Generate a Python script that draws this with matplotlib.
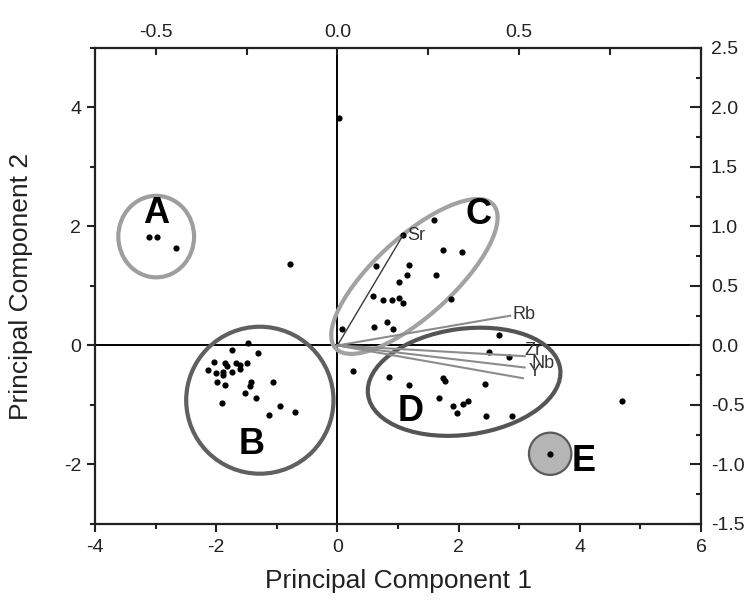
import numpy as np
import matplotlib
matplotlib.use("Agg")
import matplotlib.pyplot as plt
from matplotlib.patches import Ellipse
from matplotlib.ticker import MultipleLocator, FormatStrFormatter

plt.rcParams['font.family'] = ['Liberation Sans', 'DejaVu Sans']
plt.rcParams['axes.unicode_minus'] = False

# PCA scores (PC1, PC2), grouped by cluster
a_pc1 = [-3.11, -2.98, -2.67]
a_pc2 = [1.83, 1.83, 1.64]

b_pc1 = [-1.48, -1.74, -1.31, -2.03, -1.86, -1.83, -1.68, -1.61, -1.49, -2.13, -2.01, -1.88, -1.88,
         -1.74, -1.61, -1.99, -1.85, -1.42, -1.45, -1.06, -1.52, -1.34, -1.91, -0.94, -0.70, -1.13]
b_pc2 = [0.05, -0.07, -0.12, -0.28, -0.29, -0.34, -0.29, -0.33, -0.29, -0.42, -0.46, -0.44, -0.50,
         -0.45, -0.39, -0.62, -0.67, -0.61, -0.68, -0.61, -0.80, -0.89, -0.97, -1.01, -1.11, -1.16]

c_pc1 = [1.60, 1.09, 1.74, 2.05, 0.63, 1.18, 1.15, 1.62, 1.02, 0.59, 0.76, 0.90, 1.01, 1.08, 1.88,
         0.08, 0.60, 0.82, 0.92]
c_pc2 = [2.11, 1.85, 1.61, 1.57, 1.33, 1.36, 1.19, 1.18, 1.06, 0.83, 0.76, 0.77, 0.80, 0.72, 0.78,
         0.27, 0.31, 0.39, 0.28]

d_pc1 = [0.25, 0.85, 1.18, 1.74, 1.78, 2.43, 1.68, 1.91, 1.97, 2.07, 2.16, 2.45, 2.88, 2.50, 2.83, 2.66]
d_pc2 = [-0.43, -0.53, -0.66, -0.54, -0.60, -0.64, -0.88, -1.01, -1.14, -0.98, -0.94, -1.18, -1.19,
         -0.11, -0.19, 0.18]

other_pc1 = [-0.78, 0.03, 4.70, 3.51]
other_pc2 = [1.37, 3.83, -0.94, -1.82]

# loadings (top / right axes)
elements = ['Sr', 'Rb', 'Zr', 'Nb', 'Y']
load1 = [0.18, 0.475, 0.515, 0.515, 0.51]
load2 = [0.925, 0.25, -0.09, -0.185, -0.275]

# group outlines: label, centre, width, height, angle
groups = ['A', 'B', 'C', 'D', 'E']
grp_center = [(-2.99, 1.83), (-1.28, -0.92), (1.27, 1.16), (2.09, -0.61), (3.51, -1.82)]
grp_width = [1.25, 2.43, 3.55, 3.2, 0.7]
grp_height = [1.37, 2.47, 1.31, 1.78, 0.71]
grp_angle = [0, 0, 43, 8, 0]
grp_label_pos = [(-2.99, 2.22), (-1.42, -1.66), (2.32, 2.2), (1.2, -1.11), (4.06, -1.95)]

edge_cols = ['#9e9e9e', '#606060', '#a2a2a2', '#555555', '#5a5a5a']
face_cols = ['none', 'none', 'none', 'none', '#b5b5b5']
edge_lw = [3, 3, 3, 3, 1.6]

fig = plt.figure(figsize=(7.52, 6.02), dpi=100)
rect = [0.1263, 0.1296, 0.806, 0.7907]
ax = fig.add_axes(rect)

ax.set_xlim(-4, 6)
ax.set_ylim(-3, 5)
ax.set_xticks([-4, -2, 0, 2, 4, 6])
ax.set_yticks([-2, 0, 2, 4])
ax.xaxis.set_minor_locator(MultipleLocator(1))
ax.yaxis.set_minor_locator(MultipleLocator(1))
ax.tick_params(which='major', direction='out', length=6, width=1.5, labelsize=14, colors='#222222')
ax.tick_params(axis='x', which='major', pad=5)
ax.tick_params(axis='y', which='major', pad=4)
ax.tick_params(which='minor', direction='out', length=3.5, width=1.5, colors='#222222')
for s in ax.spines.values():
    s.set_linewidth(1.6)
    s.set_color('#222222')

ax.axhline(0, color='black', lw=1.4, zorder=1)
ax.axvline(0, color='black', lw=1.4, zorder=1)

for i in range(len(groups)):
    e = Ellipse(grp_center[i], grp_width[i], grp_height[i], angle=grp_angle[i],
                facecolor=face_cols[i], edgecolor=edge_cols[i], lw=edge_lw[i], zorder=2)
    ax.add_patch(e)
    ax.text(grp_label_pos[i][0], grp_label_pos[i][1], groups[i], fontsize=26, fontweight='bold',
            ha='center', va='center', color='black', zorder=5)

allx = a_pc1 + b_pc1 + c_pc1 + d_pc1 + other_pc1
ally = a_pc2 + b_pc2 + c_pc2 + d_pc2 + other_pc2
ax.scatter(allx, ally, s=20, color='black', zorder=4, linewidths=0)

ax.set_xlabel('Principal Component 1', fontsize=19, color='#222222')
ax.set_ylabel('Principal Component 2', fontsize=19, color='#222222')
ax.xaxis.set_label_coords(0.5, -0.095)
ax.yaxis.set_label_coords(-0.102, 0.5)

# loading axes on top / right
ax2 = fig.add_axes(rect, label='loadings', frameon=False)
ax2.patch.set_visible(False)
ax2.set_xlim(-4 / 6, 1)
ax2.set_ylim(-1.5, 2.5)
ax2.xaxis.tick_top()
ax2.yaxis.tick_right()
ax2.set_xticks([-0.5, 0, 0.5])
ax2.set_yticks(np.arange(-1.5, 2.51, 0.5))
ax2.xaxis.set_minor_locator(MultipleLocator(0.25))
ax2.yaxis.set_minor_locator(MultipleLocator(0.25))
ax2.tick_params(axis='x', which='major', direction='in', length=5, width=1.5, labelsize=14, pad=5, colors='#222222')
ax2.tick_params(axis='x', which='minor', direction='in', length=5, width=1.5, colors='#222222')
ax2.tick_params(axis='y', which='major', direction='in', length=8, width=1.5, labelsize=14, pad=7, colors='#222222')
ax2.tick_params(axis='y', which='minor', direction='in', length=3.6, width=1.5, colors='#222222')
ax2.yaxis.set_major_formatter(FormatStrFormatter('%.1f'))

line_cols = ['#3a3a3a', '#8c8c8c', '#8c8c8c', '#8c8c8c', '#8c8c8c']
line_lw = [1.0, 1.5, 1.5, 1.5, 1.5]
offsets = [(3, 0), (2, 1), (0, 4), (5, 3), (4, 5)]
for i in range(len(elements)):
    ax2.plot([0, load1[i]], [0, load2[i]], color=line_cols[i], lw=line_lw[i], zorder=3)
    ax2.annotate(elements[i], (load1[i], load2[i]), xytext=offsets[i], textcoords='offset points',
                 fontsize=13, color='#333333', ha='left', va='center')

fig.savefig('out.png', dpi=100)
